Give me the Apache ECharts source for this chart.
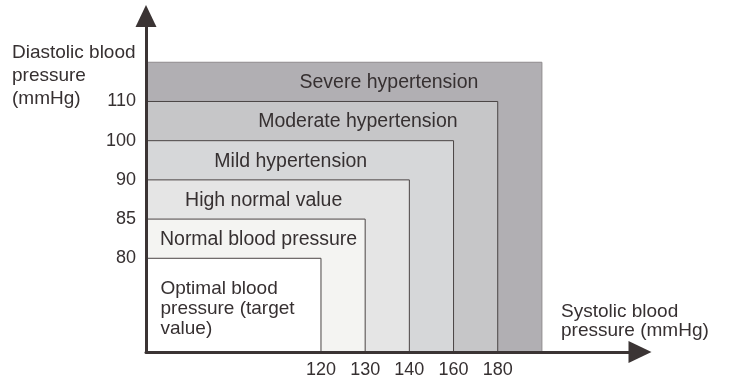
<!DOCTYPE html>
<html><head><meta charset="utf-8">
<script src="https://cdn.jsdelivr.net/npm/echarts@6/dist/echarts.min.js"></script>
<style>html,body{margin:0;padding:0;background:#fff}#c{width:735px;height:387px}</style>
</head><body><div id="c"></div>
<script>
// ---- data ----
const bandNames = ['Optimal blood\npressure (target\nvalue)', 'Normal blood pressure', 'High normal value', 'Mild hypertension', 'Moderate hypertension', 'Severe hypertension'];
const systolicTicks = [120, 130, 140, 160, 180];
const diastolicTicks = [80, 85, 90, 100, 110];
const yAxisTitle = 'Diastolic blood\npressure\n(mmHg)';
const xAxisTitle = 'Systolic blood\npressure (mmHg)';

// ---- styling ----
const bandColors = ['#ffffff', '#f4f4f2', '#e5e5e5', '#d6d7d9', '#c6c6c8', '#b1afb3'];
const labelDx = [0, 3, -14, -9, 36, 45];
const FONT = '"Liberation Sans", Arial, sans-serif';
const TEXT = '#363031';
const AXIS = '#3b3434';

// Each band i is bounded by the i-th threshold rank on both axes (outermost band one step past the last threshold).
const bandData = bandNames.map((n, i) => ({ name: n, value: [i, i, i] })).reverse();
const tickRanks = systolicTicks.map((_, i) => i);

const chart = echarts.init(document.getElementById('c'), null, { renderer: 'canvas' });
chart.setOption({
  animation: false,
  backgroundColor: '#fff',
  grid: { left: 146, right: 95, top: 16, bottom: 35 },
  xAxis: {
    type: 'value', min: -3.96, max: 7.22, z: 10,
    axisLine: { show: true, onZero: false, lineStyle: { color: AXIS, width: 3 }, symbol: ['none', 'triangle'], symbolSize: [22, 23] },
    axisTick: { show: false }, splitLine: { show: false },
    axisLabel: { customValues: tickRanks, formatter: v => String(systolicTicks[v]), margin: 9, fontSize: 18, color: TEXT, fontFamily: FONT }
  },
  yAxis: {
    type: 'value', min: -2.39, max: 6.18, z: 10,
    axisLine: { show: true, onZero: false, lineStyle: { color: AXIS, width: 3 }, symbol: ['none', 'triangle'], symbolSize: [21, 22] },
    axisTick: { show: false }, splitLine: { show: false },
    axisLabel: { customValues: tickRanks, formatter: v => String(diastolicTicks[v]), margin: 10, fontSize: 18, color: TEXT, fontFamily: FONT }
  },
  graphic: [
    { type: 'text', left: 12, top: 41, style: { text: yAxisTitle, font: '19px ' + FONT, fill: TEXT, lineHeight: 23 } },
    { type: 'text', left: 561, top: 302, style: { text: xAxisTitle, font: '19px ' + FONT, fill: TEXT, lineHeight: 19.5 } }
  ],
  series: [{
    type: 'custom',
    data: bandData,
    renderItem: function (params, api) {
      const xr = api.value(0), yr = api.value(1), idx = api.value(2);
      const cs = params.coordSys;
      const x0 = cs.x, y0 = cs.y + cs.height;
      const p = api.coord([xr, yr]);
      const pin = api.coord([xr - 1, yr - 1]);
      const children = [{
        type: 'rect',
        shape: { x: x0, y: p[1], width: p[0] - x0, height: y0 - p[1] },
        style: { fill: bandColors[idx], stroke: idx === 5 ? '#8e8b8d' : '#4a4444', lineWidth: 1 }
      }];
      if (idx > 0) {
        children.push({
          type: 'text',
          style: {
            text: bandNames[idx], x: (x0 + p[0]) / 2 + labelDx[idx], y: (p[1] + pin[1]) / 2 + 1,
            align: 'center', verticalAlign: 'middle', font: '19.5px ' + FONT, fill: TEXT
          }
        });
      } else {
        children.push({
          type: 'text',
          style: {
            text: bandNames[idx], x: x0 + 14.5, y: (p[1] + y0) / 2 + 4,
            align: 'left', verticalAlign: 'middle', font: '19px ' + FONT, fill: TEXT, lineHeight: 20
          }
        });
      }
      return { type: 'group', children: children };
    }
  }]
});
</script>
</body></html>
